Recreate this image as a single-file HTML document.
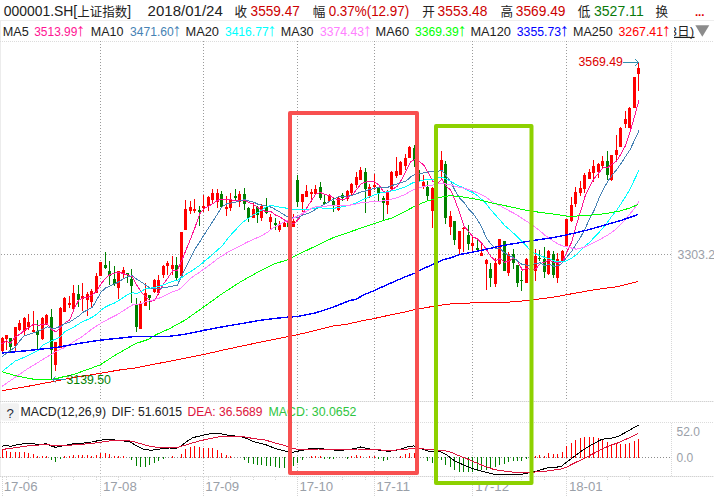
<!DOCTYPE html>
<html><head><meta charset="utf-8"><title>000001.SH</title>
<style>html,body{margin:0;padding:0;background:#fff;overflow:hidden}body{width:714px;height:499px}svg{display:block}text{font-family:"Liberation Sans","Noto Sans CJK SC",sans-serif}.h1{font-size:14px;fill:#222}.h2{font-size:12.3px}.ax{font-size:12px;fill:#9aa0a8}</style></head><body>
<svg width="714" height="499" viewBox="0 0 714 499">
<rect x="0" y="0" width="714" height="499" fill="#fff"/>
<g shape-rendering="crispEdges" fill="none">
<line x1="0" y1="20.5" x2="714" y2="20.5" stroke="#eeeeee" stroke-width="1"/>
<line x1="0.5" y1="21" x2="0.5" y2="477" stroke="#ececec" stroke-width="1"/>
<line x1="0" y1="41.5" x2="714" y2="41.5" stroke="#dcdcdc" stroke-width="1" stroke-dasharray="1 1"/>
<line x1="1" y1="254.5" x2="672" y2="254.5" stroke="#9a9a9a" stroke-width="1" stroke-dasharray="1 2"/>
<line x1="0" y1="401.5" x2="714" y2="401.5" stroke="#eeeeee" stroke-width="1"/>
<line x1="0" y1="401.5" x2="714" y2="401.5" stroke="#d2d2d2" stroke-width="1" stroke-dasharray="1 1"/>
<line x1="0" y1="422.5" x2="714" y2="422.5" stroke="#dcdcdc" stroke-width="1" stroke-dasharray="1 1"/>
<line x1="0" y1="457.5" x2="672" y2="457.5" stroke="#8a8a8a" stroke-width="1" stroke-dasharray="1 2"/>
<line x1="0" y1="476.5" x2="714" y2="476.5" stroke="#eeeeee" stroke-width="1"/>
<line x1="0" y1="476.5" x2="714" y2="476.5" stroke="#d2d2d2" stroke-width="1" stroke-dasharray="1 1"/>
<line x1="100.5" y1="41" x2="100.5" y2="401" stroke="#9a9a9a" stroke-width="1" stroke-dasharray="1 2"/>
<line x1="100.5" y1="422" x2="100.5" y2="476" stroke="#b8b8b8" stroke-width="1" stroke-dasharray="1 2"/>
<line x1="100.5" y1="477" x2="100.5" y2="496" stroke="#d4d4d4" stroke-width="1" stroke-dasharray="1 1"/>
<line x1="203.5" y1="41" x2="203.5" y2="401" stroke="#9a9a9a" stroke-width="1" stroke-dasharray="1 2"/>
<line x1="203.5" y1="422" x2="203.5" y2="476" stroke="#b8b8b8" stroke-width="1" stroke-dasharray="1 2"/>
<line x1="203.5" y1="477" x2="203.5" y2="496" stroke="#d4d4d4" stroke-width="1" stroke-dasharray="1 1"/>
<line x1="297.5" y1="41" x2="297.5" y2="401" stroke="#9a9a9a" stroke-width="1" stroke-dasharray="1 2"/>
<line x1="297.5" y1="422" x2="297.5" y2="476" stroke="#b8b8b8" stroke-width="1" stroke-dasharray="1 2"/>
<line x1="297.5" y1="477" x2="297.5" y2="496" stroke="#d4d4d4" stroke-width="1" stroke-dasharray="1 1"/>
<line x1="374.5" y1="41" x2="374.5" y2="401" stroke="#9a9a9a" stroke-width="1" stroke-dasharray="1 2"/>
<line x1="374.5" y1="422" x2="374.5" y2="476" stroke="#b8b8b8" stroke-width="1" stroke-dasharray="1 2"/>
<line x1="374.5" y1="477" x2="374.5" y2="496" stroke="#d4d4d4" stroke-width="1" stroke-dasharray="1 1"/>
<line x1="472.5" y1="41" x2="472.5" y2="401" stroke="#9a9a9a" stroke-width="1" stroke-dasharray="1 2"/>
<line x1="472.5" y1="422" x2="472.5" y2="476" stroke="#b8b8b8" stroke-width="1" stroke-dasharray="1 2"/>
<line x1="472.5" y1="477" x2="472.5" y2="496" stroke="#d4d4d4" stroke-width="1" stroke-dasharray="1 1"/>
<line x1="566.5" y1="41" x2="566.5" y2="401" stroke="#9a9a9a" stroke-width="1" stroke-dasharray="1 2"/>
<line x1="566.5" y1="422" x2="566.5" y2="476" stroke="#b8b8b8" stroke-width="1" stroke-dasharray="1 2"/>
<line x1="566.5" y1="477" x2="566.5" y2="496" stroke="#d4d4d4" stroke-width="1" stroke-dasharray="1 1"/>
<line x1="671.5" y1="43" x2="671.5" y2="401" stroke="#d8d8d8" stroke-width="1" stroke-dasharray="1 1"/>
<line x1="671.5" y1="423" x2="671.5" y2="476" stroke="#d8d8d8" stroke-width="1" stroke-dasharray="1 1"/>
<line x1="2.5" y1="477" x2="2.5" y2="496" stroke="#d4d4d4" stroke-width="1" stroke-dasharray="1 1"/>
<rect x="6" y="477" width="1" height="1" fill="#d8d8d8"/>
<rect x="6" y="479" width="1" height="1" fill="#d8d8d8"/>
<rect x="28" y="477" width="1" height="1" fill="#d8d8d8"/>
<rect x="28" y="479" width="1" height="1" fill="#d8d8d8"/>
<rect x="51" y="477" width="1" height="1" fill="#d8d8d8"/>
<rect x="51" y="479" width="1" height="1" fill="#d8d8d8"/>
<rect x="73" y="477" width="1" height="1" fill="#d8d8d8"/>
<rect x="73" y="479" width="1" height="1" fill="#d8d8d8"/>
<rect x="96" y="477" width="1" height="1" fill="#d8d8d8"/>
<rect x="96" y="479" width="1" height="1" fill="#d8d8d8"/>
<rect x="118" y="477" width="1" height="1" fill="#d8d8d8"/>
<rect x="118" y="479" width="1" height="1" fill="#d8d8d8"/>
<rect x="140" y="477" width="1" height="1" fill="#d8d8d8"/>
<rect x="140" y="479" width="1" height="1" fill="#d8d8d8"/>
<rect x="163" y="477" width="1" height="1" fill="#d8d8d8"/>
<rect x="163" y="479" width="1" height="1" fill="#d8d8d8"/>
<rect x="185" y="477" width="1" height="1" fill="#d8d8d8"/>
<rect x="185" y="479" width="1" height="1" fill="#d8d8d8"/>
<rect x="208" y="477" width="1" height="1" fill="#d8d8d8"/>
<rect x="208" y="479" width="1" height="1" fill="#d8d8d8"/>
<rect x="230" y="477" width="1" height="1" fill="#d8d8d8"/>
<rect x="230" y="479" width="1" height="1" fill="#d8d8d8"/>
<rect x="253" y="477" width="1" height="1" fill="#d8d8d8"/>
<rect x="253" y="479" width="1" height="1" fill="#d8d8d8"/>
<rect x="275" y="477" width="1" height="1" fill="#d8d8d8"/>
<rect x="275" y="479" width="1" height="1" fill="#d8d8d8"/>
<rect x="320" y="477" width="1" height="1" fill="#d8d8d8"/>
<rect x="320" y="479" width="1" height="1" fill="#d8d8d8"/>
<rect x="342" y="477" width="1" height="1" fill="#d8d8d8"/>
<rect x="342" y="479" width="1" height="1" fill="#d8d8d8"/>
<rect x="365" y="477" width="1" height="1" fill="#d8d8d8"/>
<rect x="365" y="479" width="1" height="1" fill="#d8d8d8"/>
<rect x="387" y="477" width="1" height="1" fill="#d8d8d8"/>
<rect x="387" y="479" width="1" height="1" fill="#d8d8d8"/>
<rect x="409" y="477" width="1" height="1" fill="#d8d8d8"/>
<rect x="409" y="479" width="1" height="1" fill="#d8d8d8"/>
<rect x="432" y="477" width="1" height="1" fill="#d8d8d8"/>
<rect x="432" y="479" width="1" height="1" fill="#d8d8d8"/>
<rect x="454" y="477" width="1" height="1" fill="#d8d8d8"/>
<rect x="454" y="479" width="1" height="1" fill="#d8d8d8"/>
<rect x="477" y="477" width="1" height="1" fill="#d8d8d8"/>
<rect x="477" y="479" width="1" height="1" fill="#d8d8d8"/>
<rect x="499" y="477" width="1" height="1" fill="#d8d8d8"/>
<rect x="499" y="479" width="1" height="1" fill="#d8d8d8"/>
<rect x="521" y="477" width="1" height="1" fill="#d8d8d8"/>
<rect x="521" y="479" width="1" height="1" fill="#d8d8d8"/>
<rect x="544" y="477" width="1" height="1" fill="#d8d8d8"/>
<rect x="544" y="479" width="1" height="1" fill="#d8d8d8"/>
<rect x="584" y="477" width="1" height="1" fill="#d8d8d8"/>
<rect x="584" y="479" width="1" height="1" fill="#d8d8d8"/>
<rect x="607" y="477" width="1" height="1" fill="#d8d8d8"/>
<rect x="607" y="479" width="1" height="1" fill="#d8d8d8"/>
<rect x="629" y="477" width="1" height="1" fill="#d8d8d8"/>
<rect x="629" y="479" width="1" height="1" fill="#d8d8d8"/>
</g>
<g shape-rendering="crispEdges">
<rect x="2" y="337" width="1" height="16" fill="#ff0000"/>
<rect x="1" y="338" width="3" height="13" fill="#ff0000"/>
<rect x="6" y="335" width="1" height="15" fill="#ff0000"/>
<rect x="5" y="335" width="3" height="4" fill="#ff0000"/>
<rect x="10" y="338" width="1" height="14" fill="#008000"/>
<rect x="9" y="338" width="3" height="9" fill="#008000"/>
<rect x="15" y="327" width="1" height="24" fill="#ff0000"/>
<rect x="14" y="327" width="3" height="19" fill="#ff0000"/>
<rect x="19" y="320" width="1" height="11" fill="#ff0000"/>
<rect x="18" y="323" width="3" height="7" fill="#ff0000"/>
<rect x="24" y="317" width="1" height="19" fill="#ff0000"/>
<rect x="23" y="318" width="3" height="13" fill="#ff0000"/>
<rect x="28" y="314" width="1" height="16" fill="#ff0000"/>
<rect x="27" y="322" width="3" height="5" fill="#ff0000"/>
<rect x="33" y="311" width="1" height="22" fill="#ff0000"/>
<rect x="32" y="330" width="3" height="2" fill="#ff0000"/>
<rect x="37" y="320" width="1" height="29" fill="#008000"/>
<rect x="36" y="331" width="3" height="4" fill="#008000"/>
<rect x="42" y="317" width="1" height="23" fill="#ff0000"/>
<rect x="41" y="318" width="3" height="21" fill="#ff0000"/>
<rect x="46" y="314" width="1" height="11" fill="#ff0000"/>
<rect x="45" y="315" width="3" height="9" fill="#ff0000"/>
<rect x="51" y="309" width="1" height="71" fill="#008000"/>
<rect x="50" y="317" width="3" height="33" fill="#008000"/>
<rect x="55" y="342" width="1" height="29" fill="#ff0000"/>
<rect x="54" y="342" width="3" height="23" fill="#ff0000"/>
<rect x="60" y="307" width="1" height="41" fill="#ff0000"/>
<rect x="59" y="308" width="3" height="40" fill="#ff0000"/>
<rect x="64" y="297" width="1" height="15" fill="#ff0000"/>
<rect x="63" y="298" width="3" height="14" fill="#ff0000"/>
<rect x="69" y="296" width="1" height="12" fill="#ff0000"/>
<rect x="68" y="303" width="3" height="2" fill="#ff0000"/>
<rect x="73" y="285" width="1" height="24" fill="#ff0000"/>
<rect x="72" y="293" width="3" height="16" fill="#ff0000"/>
<rect x="78" y="285" width="1" height="22" fill="#008000"/>
<rect x="77" y="294" width="3" height="6" fill="#008000"/>
<rect x="82" y="283" width="1" height="28" fill="#ff0000"/>
<rect x="81" y="296" width="3" height="3" fill="#ff0000"/>
<rect x="87" y="292" width="1" height="24" fill="#ff0000"/>
<rect x="86" y="294" width="3" height="6" fill="#ff0000"/>
<rect x="91" y="289" width="1" height="19" fill="#ff0000"/>
<rect x="90" y="291" width="3" height="11" fill="#ff0000"/>
<rect x="96" y="273" width="1" height="20" fill="#ff0000"/>
<rect x="95" y="276" width="3" height="17" fill="#ff0000"/>
<rect x="100" y="262" width="1" height="14" fill="#ff0000"/>
<rect x="99" y="262" width="3" height="14" fill="#ff0000"/>
<rect x="105" y="252" width="1" height="17" fill="#008000"/>
<rect x="104" y="265" width="3" height="3" fill="#008000"/>
<rect x="109" y="261" width="1" height="24" fill="#008000"/>
<rect x="108" y="271" width="3" height="5" fill="#008000"/>
<rect x="114" y="266" width="1" height="20" fill="#008000"/>
<rect x="113" y="279" width="3" height="5" fill="#008000"/>
<rect x="118" y="271" width="1" height="28" fill="#ff0000"/>
<rect x="117" y="271" width="3" height="17" fill="#ff0000"/>
<rect x="123" y="267" width="1" height="12" fill="#ff0000"/>
<rect x="122" y="270" width="3" height="4" fill="#ff0000"/>
<rect x="127" y="273" width="1" height="10" fill="#008000"/>
<rect x="126" y="273" width="3" height="2" fill="#008000"/>
<rect x="131" y="269" width="1" height="34" fill="#008000"/>
<rect x="130" y="279" width="3" height="7" fill="#008000"/>
<rect x="136" y="298" width="1" height="34" fill="#008000"/>
<rect x="135" y="304" width="3" height="23" fill="#008000"/>
<rect x="140" y="301" width="1" height="28" fill="#ff0000"/>
<rect x="139" y="304" width="3" height="25" fill="#ff0000"/>
<rect x="145" y="283" width="1" height="23" fill="#ff0000"/>
<rect x="144" y="293" width="3" height="13" fill="#ff0000"/>
<rect x="149" y="295" width="1" height="15" fill="#008000"/>
<rect x="148" y="295" width="3" height="3" fill="#008000"/>
<rect x="154" y="279" width="1" height="14" fill="#ff0000"/>
<rect x="153" y="280" width="3" height="12" fill="#ff0000"/>
<rect x="158" y="275" width="1" height="20" fill="#ff0000"/>
<rect x="157" y="280" width="3" height="13" fill="#ff0000"/>
<rect x="163" y="265" width="1" height="13" fill="#ff0000"/>
<rect x="162" y="266" width="3" height="9" fill="#ff0000"/>
<rect x="167" y="261" width="1" height="14" fill="#ff0000"/>
<rect x="166" y="263" width="3" height="3" fill="#ff0000"/>
<rect x="172" y="256" width="1" height="19" fill="#ff0000"/>
<rect x="171" y="265" width="3" height="4" fill="#ff0000"/>
<rect x="176" y="257" width="1" height="23" fill="#008000"/>
<rect x="175" y="265" width="3" height="13" fill="#008000"/>
<rect x="181" y="232" width="1" height="46" fill="#ff0000"/>
<rect x="180" y="232" width="3" height="44" fill="#ff0000"/>
<rect x="185" y="200" width="1" height="30" fill="#ff0000"/>
<rect x="184" y="209" width="3" height="21" fill="#ff0000"/>
<rect x="190" y="201" width="1" height="13" fill="#ff0000"/>
<rect x="189" y="207" width="3" height="4" fill="#ff0000"/>
<rect x="194" y="199" width="1" height="14" fill="#ff0000"/>
<rect x="193" y="209" width="3" height="2" fill="#ff0000"/>
<rect x="199" y="206" width="1" height="20" fill="#008000"/>
<rect x="198" y="210" width="3" height="2" fill="#008000"/>
<rect x="203" y="195" width="1" height="17" fill="#ff0000"/>
<rect x="202" y="206" width="3" height="2" fill="#ff0000"/>
<rect x="208" y="196" width="1" height="15" fill="#ff0000"/>
<rect x="207" y="197" width="3" height="9" fill="#ff0000"/>
<rect x="212" y="189" width="1" height="14" fill="#ff0000"/>
<rect x="211" y="193" width="3" height="7" fill="#ff0000"/>
<rect x="217" y="189" width="1" height="19" fill="#ff0000"/>
<rect x="216" y="193" width="3" height="9" fill="#ff0000"/>
<rect x="221" y="191" width="1" height="17" fill="#008000"/>
<rect x="220" y="194" width="3" height="13" fill="#008000"/>
<rect x="226" y="196" width="1" height="20" fill="#ff0000"/>
<rect x="225" y="207" width="3" height="2" fill="#ff0000"/>
<rect x="230" y="193" width="1" height="18" fill="#ff0000"/>
<rect x="229" y="199" width="3" height="9" fill="#ff0000"/>
<rect x="235" y="189" width="1" height="12" fill="#008000"/>
<rect x="234" y="196" width="3" height="2" fill="#008000"/>
<rect x="239" y="191" width="1" height="16" fill="#ff0000"/>
<rect x="238" y="194" width="3" height="8" fill="#ff0000"/>
<rect x="244" y="188" width="1" height="22" fill="#008000"/>
<rect x="243" y="194" width="3" height="10" fill="#008000"/>
<rect x="248" y="207" width="1" height="15" fill="#008000"/>
<rect x="247" y="208" width="3" height="10" fill="#008000"/>
<rect x="253" y="203" width="1" height="15" fill="#ff0000"/>
<rect x="252" y="209" width="3" height="9" fill="#ff0000"/>
<rect x="257" y="206" width="1" height="17" fill="#008000"/>
<rect x="256" y="207" width="3" height="8" fill="#008000"/>
<rect x="261" y="204" width="1" height="17" fill="#ff0000"/>
<rect x="260" y="206" width="3" height="12" fill="#ff0000"/>
<rect x="266" y="198" width="1" height="16" fill="#008000"/>
<rect x="265" y="207" width="3" height="6" fill="#008000"/>
<rect x="270" y="214" width="1" height="15" fill="#ff0000"/>
<rect x="269" y="217" width="3" height="5" fill="#ff0000"/>
<rect x="275" y="218" width="1" height="12" fill="#008000"/>
<rect x="274" y="223" width="3" height="2" fill="#008000"/>
<rect x="279" y="221" width="1" height="11" fill="#ff0000"/>
<rect x="278" y="224" width="3" height="6" fill="#ff0000"/>
<rect x="284" y="219" width="1" height="8" fill="#ff0000"/>
<rect x="283" y="223" width="3" height="4" fill="#ff0000"/>
<rect x="288" y="220" width="1" height="9" fill="#008000"/>
<rect x="287" y="223" width="3" height="4" fill="#008000"/>
<rect x="293" y="214" width="1" height="13" fill="#ff0000"/>
<rect x="292" y="221" width="3" height="6" fill="#ff0000"/>
<rect x="297" y="175" width="1" height="32" fill="#008000"/>
<rect x="296" y="180" width="3" height="22" fill="#008000"/>
<rect x="302" y="194" width="1" height="18" fill="#ff0000"/>
<rect x="301" y="194" width="3" height="8" fill="#ff0000"/>
<rect x="306" y="185" width="1" height="12" fill="#ff0000"/>
<rect x="305" y="191" width="3" height="6" fill="#ff0000"/>
<rect x="311" y="189" width="1" height="13" fill="#ff0000"/>
<rect x="310" y="192" width="3" height="2" fill="#ff0000"/>
<rect x="315" y="185" width="1" height="9" fill="#ff0000"/>
<rect x="314" y="189" width="3" height="5" fill="#ff0000"/>
<rect x="320" y="182" width="1" height="18" fill="#008000"/>
<rect x="319" y="187" width="3" height="11" fill="#008000"/>
<rect x="324" y="194" width="1" height="11" fill="#008000"/>
<rect x="323" y="202" width="3" height="2" fill="#008000"/>
<rect x="329" y="194" width="1" height="8" fill="#ff0000"/>
<rect x="328" y="195" width="3" height="6" fill="#ff0000"/>
<rect x="333" y="198" width="1" height="14" fill="#008000"/>
<rect x="332" y="201" width="3" height="4" fill="#008000"/>
<rect x="338" y="197" width="1" height="14" fill="#ff0000"/>
<rect x="337" y="198" width="3" height="12" fill="#ff0000"/>
<rect x="342" y="193" width="1" height="8" fill="#008000"/>
<rect x="341" y="195" width="3" height="3" fill="#008000"/>
<rect x="347" y="190" width="1" height="11" fill="#ff0000"/>
<rect x="346" y="191" width="3" height="8" fill="#ff0000"/>
<rect x="351" y="183" width="1" height="12" fill="#ff0000"/>
<rect x="350" y="184" width="3" height="9" fill="#ff0000"/>
<rect x="356" y="172" width="1" height="16" fill="#ff0000"/>
<rect x="355" y="177" width="3" height="8" fill="#ff0000"/>
<rect x="360" y="167" width="1" height="13" fill="#ff0000"/>
<rect x="359" y="170" width="3" height="10" fill="#ff0000"/>
<rect x="365" y="168" width="1" height="45" fill="#008000"/>
<rect x="364" y="172" width="3" height="17" fill="#008000"/>
<rect x="369" y="184" width="1" height="14" fill="#ff0000"/>
<rect x="368" y="187" width="3" height="9" fill="#ff0000"/>
<rect x="374" y="174" width="1" height="16" fill="#ff0000"/>
<rect x="373" y="185" width="3" height="2" fill="#ff0000"/>
<rect x="378" y="188" width="1" height="13" fill="#008000"/>
<rect x="377" y="188" width="3" height="6" fill="#008000"/>
<rect x="383" y="196" width="1" height="25" fill="#008000"/>
<rect x="382" y="198" width="3" height="5" fill="#008000"/>
<rect x="387" y="190" width="1" height="24" fill="#ff0000"/>
<rect x="386" y="192" width="3" height="13" fill="#ff0000"/>
<rect x="391" y="171" width="1" height="18" fill="#ff0000"/>
<rect x="390" y="172" width="3" height="17" fill="#ff0000"/>
<rect x="396" y="157" width="1" height="21" fill="#ff0000"/>
<rect x="395" y="171" width="3" height="5" fill="#ff0000"/>
<rect x="400" y="161" width="1" height="14" fill="#ff0000"/>
<rect x="399" y="162" width="3" height="13" fill="#ff0000"/>
<rect x="405" y="154" width="1" height="16" fill="#ff0000"/>
<rect x="404" y="158" width="3" height="8" fill="#ff0000"/>
<rect x="409" y="146" width="1" height="12" fill="#ff0000"/>
<rect x="408" y="147" width="3" height="11" fill="#ff0000"/>
<rect x="414" y="145" width="1" height="22" fill="#008000"/>
<rect x="413" y="148" width="3" height="12" fill="#008000"/>
<rect x="418" y="158" width="1" height="25" fill="#008000"/>
<rect x="417" y="170" width="3" height="11" fill="#008000"/>
<rect x="423" y="175" width="1" height="14" fill="#ff0000"/>
<rect x="422" y="182" width="3" height="5" fill="#ff0000"/>
<rect x="427" y="181" width="1" height="20" fill="#008000"/>
<rect x="426" y="187" width="3" height="9" fill="#008000"/>
<rect x="432" y="187" width="1" height="41" fill="#ff0000"/>
<rect x="431" y="188" width="3" height="23" fill="#ff0000"/>
<rect x="436" y="168" width="1" height="22" fill="#ff0000"/>
<rect x="435" y="170" width="3" height="16" fill="#ff0000"/>
<rect x="441" y="151" width="1" height="28" fill="#ff0000"/>
<rect x="440" y="160" width="3" height="10" fill="#ff0000"/>
<rect x="445" y="161" width="1" height="63" fill="#008000"/>
<rect x="444" y="164" width="3" height="54" fill="#008000"/>
<rect x="450" y="211" width="1" height="24" fill="#ff0000"/>
<rect x="449" y="216" width="3" height="11" fill="#ff0000"/>
<rect x="454" y="221" width="1" height="24" fill="#008000"/>
<rect x="453" y="221" width="3" height="19" fill="#008000"/>
<rect x="459" y="231" width="1" height="24" fill="#ff0000"/>
<rect x="458" y="231" width="3" height="18" fill="#ff0000"/>
<rect x="463" y="227" width="1" height="25" fill="#ff0000"/>
<rect x="462" y="228" width="3" height="1" fill="#ff0000"/>
<rect x="468" y="225" width="1" height="25" fill="#008000"/>
<rect x="467" y="235" width="3" height="9" fill="#008000"/>
<rect x="472" y="237" width="1" height="15" fill="#ff0000"/>
<rect x="471" y="243" width="3" height="3" fill="#ff0000"/>
<rect x="477" y="238" width="1" height="14" fill="#008000"/>
<rect x="476" y="248" width="3" height="2" fill="#008000"/>
<rect x="481" y="243" width="1" height="13" fill="#ff0000"/>
<rect x="480" y="253" width="3" height="3" fill="#ff0000"/>
<rect x="486" y="259" width="1" height="31" fill="#ff0000"/>
<rect x="485" y="260" width="3" height="4" fill="#ff0000"/>
<rect x="490" y="263" width="1" height="24" fill="#008000"/>
<rect x="489" y="269" width="3" height="9" fill="#008000"/>
<rect x="495" y="258" width="1" height="29" fill="#ff0000"/>
<rect x="494" y="263" width="3" height="21" fill="#ff0000"/>
<rect x="499" y="239" width="1" height="26" fill="#ff0000"/>
<rect x="498" y="239" width="3" height="25" fill="#ff0000"/>
<rect x="504" y="241" width="1" height="30" fill="#008000"/>
<rect x="503" y="241" width="3" height="30" fill="#008000"/>
<rect x="508" y="252" width="1" height="24" fill="#ff0000"/>
<rect x="507" y="254" width="3" height="19" fill="#ff0000"/>
<rect x="513" y="249" width="1" height="20" fill="#008000"/>
<rect x="512" y="254" width="3" height="9" fill="#008000"/>
<rect x="517" y="265" width="1" height="22" fill="#008000"/>
<rect x="516" y="265" width="3" height="18" fill="#008000"/>
<rect x="521" y="271" width="1" height="20" fill="#008000"/>
<rect x="520" y="280" width="3" height="1" fill="#008000"/>
<rect x="526" y="258" width="1" height="25" fill="#ff0000"/>
<rect x="525" y="259" width="3" height="24" fill="#ff0000"/>
<rect x="535" y="249" width="1" height="32" fill="#ff0000"/>
<rect x="534" y="256" width="3" height="15" fill="#ff0000"/>
<rect x="539" y="250" width="1" height="11" fill="#008000"/>
<rect x="538" y="258" width="3" height="1" fill="#008000"/>
<rect x="544" y="247" width="1" height="31" fill="#008000"/>
<rect x="543" y="259" width="3" height="13" fill="#008000"/>
<rect x="548" y="250" width="1" height="25" fill="#ff0000"/>
<rect x="547" y="251" width="3" height="23" fill="#ff0000"/>
<rect x="553" y="251" width="1" height="27" fill="#008000"/>
<rect x="552" y="254" width="3" height="21" fill="#008000"/>
<rect x="557" y="253" width="1" height="30" fill="#ff0000"/>
<rect x="556" y="259" width="3" height="19" fill="#ff0000"/>
<rect x="562" y="250" width="1" height="12" fill="#ff0000"/>
<rect x="561" y="251" width="3" height="11" fill="#ff0000"/>
<rect x="566" y="219" width="1" height="27" fill="#ff0000"/>
<rect x="565" y="219" width="3" height="27" fill="#ff0000"/>
<rect x="571" y="197" width="1" height="25" fill="#ff0000"/>
<rect x="570" y="205" width="3" height="16" fill="#ff0000"/>
<rect x="575" y="187" width="1" height="20" fill="#ff0000"/>
<rect x="574" y="192" width="3" height="12" fill="#ff0000"/>
<rect x="580" y="181" width="1" height="15" fill="#ff0000"/>
<rect x="579" y="188" width="3" height="5" fill="#ff0000"/>
<rect x="584" y="173" width="1" height="20" fill="#ff0000"/>
<rect x="583" y="175" width="3" height="14" fill="#ff0000"/>
<rect x="589" y="169" width="1" height="10" fill="#ff0000"/>
<rect x="588" y="172" width="3" height="7" fill="#ff0000"/>
<rect x="593" y="160" width="1" height="22" fill="#ff0000"/>
<rect x="592" y="166" width="3" height="7" fill="#ff0000"/>
<rect x="598" y="163" width="1" height="15" fill="#ff0000"/>
<rect x="597" y="164" width="3" height="8" fill="#ff0000"/>
<rect x="602" y="156" width="1" height="12" fill="#ff0000"/>
<rect x="601" y="161" width="3" height="5" fill="#ff0000"/>
<rect x="607" y="151" width="1" height="29" fill="#008000"/>
<rect x="606" y="161" width="3" height="14" fill="#008000"/>
<rect x="611" y="155" width="1" height="26" fill="#ff0000"/>
<rect x="610" y="155" width="3" height="25" fill="#ff0000"/>
<rect x="616" y="135" width="1" height="25" fill="#ff0000"/>
<rect x="615" y="150" width="3" height="5" fill="#ff0000"/>
<rect x="620" y="127" width="1" height="20" fill="#ff0000"/>
<rect x="619" y="128" width="3" height="19" fill="#ff0000"/>
<rect x="625" y="111" width="1" height="17" fill="#ff0000"/>
<rect x="624" y="119" width="3" height="5" fill="#ff0000"/>
<rect x="629" y="107" width="1" height="21" fill="#ff0000"/>
<rect x="628" y="108" width="3" height="20" fill="#ff0000"/>
<rect x="634" y="77" width="1" height="31" fill="#ff0000"/>
<rect x="633" y="77" width="3" height="31" fill="#ff0000"/>
<rect x="638" y="62" width="1" height="29" fill="#ff0000"/>
<rect x="637" y="68" width="3" height="6" fill="#ff0000"/>
</g>
<g shape-rendering="crispEdges">
<rect x="2" y="450" width="1" height="8" fill="#ff0000"/>
<rect x="6" y="451" width="1" height="7" fill="#ff0000"/>
<rect x="10" y="452" width="1" height="6" fill="#ff0000"/>
<rect x="15" y="452" width="1" height="6" fill="#ff0000"/>
<rect x="19" y="452" width="1" height="6" fill="#ff0000"/>
<rect x="24" y="452" width="1" height="6" fill="#ff0000"/>
<rect x="28" y="453" width="1" height="5" fill="#ff0000"/>
<rect x="33" y="454" width="1" height="4" fill="#ff0000"/>
<rect x="37" y="456" width="1" height="2" fill="#ff0000"/>
<rect x="42" y="456" width="1" height="2" fill="#ff0000"/>
<rect x="46" y="456" width="1" height="2" fill="#ff0000"/>
<rect x="51" y="457" width="1" height="3" fill="#008000"/>
<rect x="55" y="457" width="1" height="5" fill="#008000"/>
<rect x="60" y="457" width="1" height="2" fill="#008000"/>
<rect x="64" y="456" width="1" height="2" fill="#ff0000"/>
<rect x="69" y="456" width="1" height="2" fill="#ff0000"/>
<rect x="73" y="455" width="1" height="3" fill="#ff0000"/>
<rect x="78" y="455" width="1" height="3" fill="#ff0000"/>
<rect x="82" y="455" width="1" height="3" fill="#ff0000"/>
<rect x="87" y="455" width="1" height="3" fill="#ff0000"/>
<rect x="91" y="456" width="1" height="2" fill="#ff0000"/>
<rect x="96" y="455" width="1" height="3" fill="#ff0000"/>
<rect x="100" y="453" width="1" height="5" fill="#ff0000"/>
<rect x="105" y="453" width="1" height="5" fill="#ff0000"/>
<rect x="109" y="454" width="1" height="4" fill="#ff0000"/>
<rect x="114" y="456" width="1" height="2" fill="#ff0000"/>
<rect x="118" y="456" width="1" height="2" fill="#ff0000"/>
<rect x="123" y="456" width="1" height="2" fill="#ff0000"/>
<rect x="131" y="457" width="1" height="3" fill="#008000"/>
<rect x="136" y="457" width="1" height="9" fill="#008000"/>
<rect x="140" y="457" width="1" height="10" fill="#008000"/>
<rect x="145" y="457" width="1" height="10" fill="#008000"/>
<rect x="149" y="457" width="1" height="8" fill="#008000"/>
<rect x="154" y="457" width="1" height="6" fill="#008000"/>
<rect x="158" y="457" width="1" height="4" fill="#008000"/>
<rect x="163" y="457" width="1" height="2" fill="#008000"/>
<rect x="172" y="456" width="1" height="2" fill="#ff0000"/>
<rect x="181" y="454" width="1" height="4" fill="#ff0000"/>
<rect x="185" y="449" width="1" height="9" fill="#ff0000"/>
<rect x="190" y="447" width="1" height="11" fill="#ff0000"/>
<rect x="194" y="446" width="1" height="12" fill="#ff0000"/>
<rect x="199" y="447" width="1" height="11" fill="#ff0000"/>
<rect x="203" y="448" width="1" height="10" fill="#ff0000"/>
<rect x="208" y="448" width="1" height="10" fill="#ff0000"/>
<rect x="212" y="448" width="1" height="10" fill="#ff0000"/>
<rect x="217" y="450" width="1" height="8" fill="#ff0000"/>
<rect x="221" y="453" width="1" height="5" fill="#ff0000"/>
<rect x="226" y="455" width="1" height="3" fill="#ff0000"/>
<rect x="230" y="456" width="1" height="2" fill="#ff0000"/>
<rect x="244" y="457" width="1" height="3" fill="#008000"/>
<rect x="248" y="457" width="1" height="6" fill="#008000"/>
<rect x="253" y="457" width="1" height="7" fill="#008000"/>
<rect x="257" y="457" width="1" height="8" fill="#008000"/>
<rect x="261" y="457" width="1" height="8" fill="#008000"/>
<rect x="266" y="457" width="1" height="9" fill="#008000"/>
<rect x="270" y="457" width="1" height="9" fill="#008000"/>
<rect x="275" y="457" width="1" height="10" fill="#008000"/>
<rect x="279" y="457" width="1" height="11" fill="#008000"/>
<rect x="284" y="457" width="1" height="11" fill="#008000"/>
<rect x="288" y="457" width="1" height="10" fill="#008000"/>
<rect x="293" y="457" width="1" height="9" fill="#008000"/>
<rect x="297" y="457" width="1" height="6" fill="#008000"/>
<rect x="302" y="457" width="1" height="3" fill="#008000"/>
<rect x="311" y="456" width="1" height="2" fill="#ff0000"/>
<rect x="315" y="456" width="1" height="2" fill="#ff0000"/>
<rect x="320" y="456" width="1" height="2" fill="#ff0000"/>
<rect x="324" y="457" width="1" height="2" fill="#008000"/>
<rect x="329" y="457" width="1" height="2" fill="#008000"/>
<rect x="333" y="457" width="1" height="2" fill="#008000"/>
<rect x="347" y="457" width="1" height="2" fill="#008000"/>
<rect x="351" y="456" width="1" height="2" fill="#ff0000"/>
<rect x="356" y="455" width="1" height="3" fill="#ff0000"/>
<rect x="360" y="456" width="1" height="2" fill="#ff0000"/>
<rect x="369" y="456" width="1" height="2" fill="#ff0000"/>
<rect x="374" y="456" width="1" height="2" fill="#ff0000"/>
<rect x="378" y="457" width="1" height="2" fill="#008000"/>
<rect x="383" y="457" width="1" height="4" fill="#008000"/>
<rect x="387" y="457" width="1" height="3" fill="#008000"/>
<rect x="400" y="456" width="1" height="2" fill="#ff0000"/>
<rect x="405" y="454" width="1" height="4" fill="#ff0000"/>
<rect x="409" y="453" width="1" height="5" fill="#ff0000"/>
<rect x="414" y="453" width="1" height="5" fill="#ff0000"/>
<rect x="418" y="455" width="1" height="3" fill="#ff0000"/>
<rect x="427" y="457" width="1" height="4" fill="#008000"/>
<rect x="432" y="457" width="1" height="6" fill="#008000"/>
<rect x="436" y="457" width="1" height="5" fill="#008000"/>
<rect x="441" y="457" width="1" height="3" fill="#008000"/>
<rect x="445" y="457" width="1" height="8" fill="#008000"/>
<rect x="450" y="457" width="1" height="10" fill="#008000"/>
<rect x="454" y="457" width="1" height="13" fill="#008000"/>
<rect x="459" y="457" width="1" height="15" fill="#008000"/>
<rect x="463" y="457" width="1" height="15" fill="#008000"/>
<rect x="468" y="457" width="1" height="15" fill="#008000"/>
<rect x="472" y="457" width="1" height="15" fill="#008000"/>
<rect x="477" y="457" width="1" height="14" fill="#008000"/>
<rect x="481" y="457" width="1" height="13" fill="#008000"/>
<rect x="486" y="457" width="1" height="13" fill="#008000"/>
<rect x="490" y="457" width="1" height="12" fill="#008000"/>
<rect x="495" y="457" width="1" height="10" fill="#008000"/>
<rect x="499" y="457" width="1" height="8" fill="#008000"/>
<rect x="504" y="457" width="1" height="7" fill="#008000"/>
<rect x="508" y="457" width="1" height="5" fill="#008000"/>
<rect x="513" y="457" width="1" height="4" fill="#008000"/>
<rect x="517" y="457" width="1" height="4" fill="#008000"/>
<rect x="521" y="457" width="1" height="4" fill="#008000"/>
<rect x="526" y="457" width="1" height="2" fill="#008000"/>
<rect x="535" y="456" width="1" height="2" fill="#ff0000"/>
<rect x="539" y="455" width="1" height="3" fill="#ff0000"/>
<rect x="544" y="456" width="1" height="2" fill="#ff0000"/>
<rect x="548" y="453" width="1" height="5" fill="#ff0000"/>
<rect x="553" y="454" width="1" height="4" fill="#ff0000"/>
<rect x="557" y="454" width="1" height="4" fill="#ff0000"/>
<rect x="562" y="452" width="1" height="6" fill="#ff0000"/>
<rect x="566" y="446" width="1" height="12" fill="#ff0000"/>
<rect x="571" y="443" width="1" height="15" fill="#ff0000"/>
<rect x="575" y="440" width="1" height="18" fill="#ff0000"/>
<rect x="580" y="438" width="1" height="20" fill="#ff0000"/>
<rect x="584" y="437" width="1" height="21" fill="#ff0000"/>
<rect x="589" y="437" width="1" height="21" fill="#ff0000"/>
<rect x="593" y="437" width="1" height="21" fill="#ff0000"/>
<rect x="598" y="438" width="1" height="20" fill="#ff0000"/>
<rect x="602" y="439" width="1" height="19" fill="#ff0000"/>
<rect x="607" y="442" width="1" height="16" fill="#ff0000"/>
<rect x="611" y="444" width="1" height="14" fill="#ff0000"/>
<rect x="616" y="444" width="1" height="14" fill="#ff0000"/>
<rect x="620" y="444" width="1" height="14" fill="#ff0000"/>
<rect x="625" y="444" width="1" height="14" fill="#ff0000"/>
<rect x="629" y="443" width="1" height="15" fill="#ff0000"/>
<rect x="634" y="441" width="1" height="17" fill="#ff0000"/>
<rect x="638" y="439" width="1" height="19" fill="#ff0000"/>
</g>
<polyline points="1.4,344.0 6.3,340.8 10.5,343.3 15.0,337.0 20.4,334.0 24.9,329.9 29.4,327.3 33.9,323.9 38.4,325.5 42.8,324.4 47.3,323.9 51.8,329.6 56.3,332.0 60.8,326.6 65.3,322.6 69.7,320.2 74.2,308.7 78.7,300.2 83.2,297.9 87.7,297.1 92.2,294.8 96.6,291.4 101.1,283.8 105.6,278.2 110.1,274.6 114.6,273.1 119.0,272.1 123.5,273.7 128.0,275.1 132.5,277.0 137.0,285.6 141.5,292.2 145.9,296.8 150.4,301.4 154.9,300.3 159.4,290.9 163.9,283.3 168.4,277.2 172.8,270.6 177.3,270.2 181.8,260.6 186.3,249.3 190.8,238.2 195.2,227.0 199.7,213.8 204.2,208.6 208.7,206.2 213.2,203.4 217.7,200.2 222.1,199.2 226.6,199.4 231.1,199.8 235.6,200.8 240.1,201.0 244.6,200.3 249.0,202.4 253.5,204.4 258.0,207.7 262.5,210.2 267.0,212.0 271.4,211.9 275.9,215.3 280.4,217.1 284.9,220.4 289.4,223.2 293.9,224.0 298.3,219.3 302.8,213.3 307.3,207.0 311.8,199.9 316.3,193.5 320.8,192.7 325.2,194.7 329.7,195.5 334.2,198.2 338.7,200.0 343.2,199.9 347.7,197.4 352.1,195.1 356.6,189.5 361.1,183.8 365.6,182.1 370.1,181.3 374.5,181.6 379.0,185.1 383.5,191.8 388.0,192.3 392.5,189.3 397.0,186.4 401.4,180.0 405.9,170.9 410.4,161.9 414.9,159.4 419.4,161.3 423.9,165.4 428.3,173.0 432.8,181.2 437.3,183.3 441.8,179.2 446.3,186.3 450.8,190.3 455.2,200.7 459.7,212.9 464.2,226.4 468.7,231.6 473.2,237.0 477.6,239.0 482.1,243.4 486.6,249.9 491.1,256.9 495.6,260.8 500.1,258.7 504.5,262.3 509.0,261.0 513.5,257.9 518.0,262.0 522.5,270.4 527.0,268.0 531.4,270.0 535.9,268.6 540.4,263.7 544.9,261.9 549.4,260.3 553.8,262.5 558.3,263.1 562.8,261.4 567.3,251.0 571.8,241.9 576.3,225.2 580.7,211.0 585.2,195.8 589.7,186.3 594.2,178.5 598.7,173.0 603.2,167.6 607.6,167.6 612.1,164.1 616.6,161.0 621.1,153.7 625.6,145.3 630.0,132.0 634.5,116.5 639.0,100.0" fill="none" stroke="#ff1493" stroke-width="1" stroke-linejoin="round" shape-rendering="crispEdges" />
<polyline points="2.0,356.6 10.5,350.3 15.0,347.5 19.4,341.2 24.3,335.6 28.6,334.6 33.4,332.8 37.4,331.4 42.8,329.2 47.3,326.9 51.8,328.4 56.3,328.0 60.8,326.0 65.3,323.5 69.7,322.1 74.2,319.1 78.7,316.1 83.2,312.2 87.7,309.9 92.2,307.5 96.6,300.0 101.1,292.0 105.6,288.0 110.1,285.9 114.6,283.9 119.0,281.8 123.5,278.7 128.0,276.6 132.5,275.8 137.0,279.4 141.5,282.1 145.9,285.2 150.4,288.2 154.9,288.6 159.4,288.3 163.9,287.7 168.4,287.0 172.8,286.0 177.3,285.2 181.8,275.8 186.3,266.3 190.8,257.7 195.2,248.8 199.7,242.0 204.2,234.6 208.7,227.8 213.2,220.8 217.7,213.6 222.1,206.5 226.6,204.0 231.1,203.0 235.6,202.1 240.1,200.6 244.6,199.7 249.0,200.9 253.5,202.1 258.0,204.2 262.5,205.6 267.0,206.2 271.4,207.2 275.9,209.8 280.4,212.4 284.9,215.3 289.4,217.6 293.9,217.9 298.3,217.3 302.8,215.2 307.3,213.7 311.8,211.6 316.3,208.8 320.8,206.0 325.2,204.0 329.7,201.2 334.2,199.1 338.7,196.8 343.2,196.3 347.7,196.0 352.1,195.3 356.6,193.8 361.1,191.9 365.6,191.0 370.1,189.4 374.5,188.4 379.0,187.3 383.5,187.8 388.0,187.2 392.5,185.3 397.0,184.0 401.4,182.5 405.9,181.3 410.4,177.1 414.9,174.3 419.4,173.9 423.9,172.7 428.3,172.0 432.8,171.6 437.3,171.4 441.8,170.3 446.3,175.9 450.8,181.7 455.2,191.0 459.7,198.1 464.2,202.8 468.7,209.0 473.2,213.7 477.6,219.9 482.1,228.2 486.6,238.2 491.1,244.2 495.6,248.9 500.1,248.9 504.5,252.8 509.0,255.5 513.5,257.4 518.0,261.4 522.5,264.6 527.0,265.1 531.4,265.5 535.9,263.2 540.4,262.9 544.9,266.1 549.4,264.1 553.8,266.2 558.3,265.8 562.8,262.6 567.3,256.4 571.8,251.1 576.3,243.8 580.7,237.1 585.2,228.6 589.7,218.7 594.2,210.2 598.7,199.1 603.2,189.3 607.6,181.7 612.1,175.2 616.6,169.7 621.1,163.3 625.6,156.4 630.0,149.8 634.5,140.3 639.0,130.5" fill="none" stroke="#4682b4" stroke-width="1" stroke-linejoin="round" shape-rendering="crispEdges" />
<polyline points="2.0,371.7 15.6,360.7 18.2,360.0 28.0,355.5 33.6,352.5 37.4,351.0 43.7,344.5 46.6,343.2 55.7,339.0 60.0,337.2 64.5,332.0 73.5,327.2 82.6,321.6 87.7,319.5 92.2,317.2 96.6,314.2 101.1,310.0 105.6,307.0 110.1,304.7 114.6,303.0 119.0,300.4 123.5,297.4 128.0,294.4 132.5,292.8 137.0,293.4 141.5,291.1 145.9,288.6 150.4,288.1 154.9,287.2 159.4,286.1 163.9,284.7 168.4,282.9 172.8,281.3 177.3,280.5 181.8,277.6 186.3,274.2 190.8,271.5 195.2,268.5 199.7,265.3 204.2,261.4 208.7,257.7 213.2,253.9 217.7,249.8 222.1,245.9 226.6,239.9 231.1,234.6 235.6,229.9 240.1,224.7 244.6,220.9 249.0,217.8 253.5,214.9 258.0,212.5 262.5,209.6 267.0,206.3 271.4,205.6 275.9,206.4 280.4,207.3 284.9,207.9 289.4,208.7 293.9,209.4 298.3,209.7 302.8,209.7 307.3,209.6 311.8,208.9 316.3,208.0 320.8,207.9 325.2,208.2 329.7,208.3 334.2,208.3 338.7,207.3 343.2,206.8 347.7,205.6 352.1,204.5 356.6,202.7 361.1,200.3 365.6,198.5 370.1,196.7 374.5,194.8 379.0,193.2 383.5,192.3 388.0,191.8 392.5,190.7 397.0,189.7 401.4,188.2 405.9,186.6 410.4,184.1 414.9,181.9 419.4,181.1 423.9,180.0 428.3,179.9 432.8,179.4 437.3,178.3 441.8,177.1 446.3,179.2 450.8,181.5 455.2,184.0 459.7,186.2 464.2,188.3 468.7,190.8 473.2,192.8 477.6,195.7 482.1,199.8 486.6,204.2 491.1,210.1 495.6,215.3 500.1,219.9 504.5,225.5 509.0,229.1 513.5,233.2 518.0,237.5 522.5,242.2 527.0,246.6 531.4,251.8 535.9,253.7 540.4,255.9 544.9,257.5 549.4,258.5 553.8,260.9 558.3,261.6 562.8,262.0 567.3,260.5 571.8,258.1 576.3,254.7 580.7,250.2 585.2,245.8 589.7,242.4 594.2,237.2 598.7,232.7 603.2,227.6 607.6,222.1 612.1,215.8 616.6,210.4 621.1,203.6 625.6,196.7 630.0,189.2 634.5,179.5 639.0,170.3" fill="none" stroke="#00ffff" stroke-width="1" stroke-linejoin="round" shape-rendering="crispEdges" />
<polyline points="2.0,386.4 26.0,369.8 42.0,360.0 55.7,351.7 64.5,347.5 73.5,341.9 82.6,336.3 91.6,329.3 100.0,323.8 108.4,319.0 116.8,314.9 126.6,308.6 132.5,305.0 137.0,304.6 141.5,303.5 145.9,301.7 150.4,300.8 154.9,299.3 159.4,298.1 163.9,296.2 168.4,294.0 172.8,291.6 177.3,290.3 181.8,287.5 186.3,282.8 190.8,278.3 195.2,275.0 199.7,272.2 204.2,268.9 208.7,265.7 213.2,262.2 217.7,258.7 222.1,255.8 226.6,253.0 231.1,250.5 235.6,248.3 240.1,245.9 244.6,243.5 249.0,241.3 253.5,239.2 258.0,237.4 262.5,235.1 267.0,232.6 271.4,229.0 275.9,226.4 280.4,224.1 284.9,221.6 289.4,219.8 293.9,217.8 298.3,215.7 302.8,213.4 307.3,211.0 311.8,208.1 316.3,206.6 320.8,206.3 325.2,206.2 329.7,205.7 334.2,205.5 338.7,205.2 343.2,205.2 347.7,205.2 352.1,204.9 356.6,203.8 361.1,202.6 365.6,202.3 370.1,201.9 374.5,201.6 379.0,201.3 383.5,200.8 388.0,200.3 392.5,198.8 397.0,197.7 401.4,196.0 405.9,194.0 410.4,191.4 414.9,189.2 419.4,187.8 423.9,186.3 428.3,185.5 432.8,185.0 437.3,184.2 441.8,183.2 446.3,184.1 450.8,185.0 455.2,186.4 459.7,187.3 464.2,188.4 468.7,189.6 473.2,191.1 477.6,192.9 482.1,194.9 486.6,197.5 491.1,200.9 495.6,204.0 500.1,205.6 504.5,208.4 509.0,210.7 513.5,213.0 518.0,215.7 522.5,218.7 527.0,221.5 531.4,224.6 535.9,227.8 540.4,231.2 544.9,235.3 549.4,238.4 553.8,241.5 558.3,244.1 562.8,245.9 567.3,246.9 571.8,248.1 576.3,249.2 580.7,248.2 585.2,246.8 589.7,244.6 594.2,242.4 598.7,240.3 603.2,237.5 607.6,235.2 612.1,232.1 616.6,228.6 621.1,224.2 625.6,218.9 630.0,213.8 634.5,208.4 639.0,201.6" fill="none" stroke="#ff80ff" stroke-width="1" stroke-linejoin="round" shape-rendering="crispEdges" />
<polyline points="2.0,371.7 15.6,375.8 34.0,379.3 52.0,379.6 75.5,373.8 100.0,365.0 114.6,355.5 135.0,343.8 148.4,339.4 156.0,334.7 170.0,328.4 185.6,319.8 203.9,306.8 222.0,293.8 240.3,282.0 258.5,271.7 274.2,263.9 287.2,260.0 297.6,254.7 315.8,246.0 334.0,237.3 350.0,231.9 361.2,228.0 374.5,223.5 392.0,217.9 406.0,210.9 415.2,206.0 427.0,201.0 439.8,197.5 450.0,195.6 462.5,197.0 478.0,199.5 493.8,203.4 509.4,206.6 525.0,210.0 540.6,212.5 556.2,214.4 567.9,216.4 586.0,215.6 604.3,213.8 620.0,211.0 630.4,207.8 638.0,204.4" fill="none" stroke="#00ff00" stroke-width="1" stroke-linejoin="round" shape-rendering="crispEdges" />
<polyline points="2.0,353.0 28.0,350.6 56.0,347.5 84.0,342.6 100.0,340.2 135.0,336.5 170.0,336.2 185.6,334.2 203.9,330.3 222.0,326.9 240.3,323.8 258.5,320.6 274.2,318.5 287.2,317.2 297.6,316.5 315.8,312.8 334.0,306.8 345.6,302.2 350.0,300.3 355.6,299.6 364.0,294.7 374.5,290.5 385.0,285.6 396.3,280.7 406.0,276.5 415.2,273.0 423.0,268.8 434.0,263.8 444.0,259.4 450.0,258.0 460.0,254.5 473.0,252.0 486.0,249.3 499.0,246.4 510.0,244.3 530.0,241.0 549.6,238.2 567.9,234.6 586.0,230.4 604.3,225.2 620.0,220.8 638.0,214.6" fill="none" stroke="#0000ff" stroke-width="1.4" stroke-linejoin="round" shape-rendering="crispEdges" />
<polyline points="2.0,390.7 28.0,386.3 48.0,382.5 72.5,377.8 100.0,373.4 118.0,370.2 135.0,368.0 179.0,359.4 203.9,354.5 222.0,350.3 240.3,346.4 258.5,342.5 274.2,339.4 287.2,336.8 297.6,334.7 315.8,330.3 334.0,325.8 345.6,324.5 361.2,321.0 374.3,318.5 390.0,315.0 403.0,312.5 416.0,309.4 434.0,306.2 447.0,304.2 460.0,303.4 473.0,302.9 486.0,302.9 499.0,302.3 510.0,302.0 530.0,300.3 556.0,296.7 565.0,295.0 594.0,289.8 617.0,286.7 638.0,281.5" fill="none" stroke="#ff0000" stroke-width="1" stroke-linejoin="round" shape-rendering="crispEdges" />
<polyline points="2.0,446.3 6.5,445.2 10.5,446.3 15.0,445.2 19.4,444.6 24.3,443.5 28.6,443.5 33.4,443.5 37.4,444.6 42.4,444.6 45.6,443.5 51.5,446.0 55.7,447.4 60.3,446.3 64.5,445.6 69.4,444.6 73.5,443.5 82.6,443.2 87.5,442.4 91.6,442.0 96.5,441.0 106.8,439.2 120.5,440.6 129.3,441.6 136.2,445.5 143.0,449.0 150.9,450.4 159.7,449.0 169.5,448.0 176.4,448.4 181.3,445.9 187.2,441.2 193.0,437.6 202.8,435.3 212.6,433.3 220.5,433.7 228.3,435.3 235.0,436.0 243.7,437.2 253.5,441.6 265.3,444.5 275.0,448.4 285.0,451.0 292.7,452.4 298.6,451.0 308.4,449.0 318.2,448.4 328.0,449.4 337.8,450.4 347.6,449.8 355.5,448.4 360.4,447.0 370.0,449.0 376.8,449.8 388.5,451.4 400.3,449.4 408.0,446.5 414.0,445.9 421.9,449.0 429.7,451.4 439.5,451.4 447.4,455.3 455.2,461.2 463.0,464.7 472.8,468.6 482.6,471.4 492.5,474.0 505.0,474.5 511.8,474.3 523.5,474.0 535.3,471.4 547.0,468.0 560.8,466.7 566.7,462.2 574.5,456.3 582.4,450.4 592.0,444.5 602.0,439.2 609.8,438.6 617.6,436.7 627.5,431.4 638.4,425.0" fill="none" stroke="#000000" stroke-width="1" stroke-linejoin="round" shape-rendering="crispEdges" />
<polyline points="2.0,449.8 6.5,448.8 15.0,447.7 24.3,446.3 33.4,445.2 42.4,444.9 46.6,444.6 51.5,445.2 60.3,445.6 69.4,445.2 78.4,444.6 87.5,443.8 96.5,442.8 106.8,441.2 120.5,440.2 132.2,441.2 140.0,443.5 148.0,445.9 157.7,447.5 169.5,447.8 179.3,447.0 187.2,444.5 197.0,441.6 206.8,439.2 216.6,437.2 224.4,436.0 235.0,436.0 243.7,436.7 253.5,438.6 265.3,440.0 275.0,443.0 285.0,445.5 292.7,448.4 300.6,449.8 308.4,449.4 318.2,449.0 328.0,449.4 337.8,449.8 347.6,449.8 357.5,449.0 370.0,449.0 376.8,449.8 388.5,450.4 400.3,449.8 408.0,449.0 416.0,447.8 423.8,449.0 433.6,449.8 443.4,450.4 451.3,452.4 459.0,455.7 467.0,458.8 474.8,462.2 482.6,465.5 492.5,469.0 500.3,470.6 511.8,472.0 523.5,473.0 535.3,472.0 547.0,471.0 560.8,469.0 566.7,467.0 574.5,463.0 582.4,459.2 592.0,454.3 602.0,449.0 609.8,445.5 617.6,443.0 627.5,438.6 638.4,433.5" fill="none" stroke="#dc143c" stroke-width="1" stroke-linejoin="round" shape-rendering="crispEdges" />
<text x="578.5" y="66.3" font-size="12.3" fill="#dc0000">3569.49</text>
<g stroke="#2f8fae" stroke-width="1" fill="none"><path d="M623 62.5H638.5M635 59l3.5 3.5l-3.5 3.5"/></g>
<text x="66.5" y="384.3" font-size="12.3" fill="#008000">3139.50</text>
<g stroke="#2f8fae" stroke-width="1" fill="none"><path d="M66 379.5H52.5M55.5 376.5l-3 3l3 3"/></g>
<text class="ax" x="677.6" y="258.8" font-size="12.3" textLength="37.6" lengthAdjust="spacingAndGlyphs">3303.2</text>
<text class="ax" x="676.5" y="436">52.0</text>
<text class="ax" x="676.5" y="462">0.0</text>
<text class="ax" x="3.7" y="491" font-size="12.3" textLength="33.8" lengthAdjust="spacingAndGlyphs">17-06</text>
<text class="ax" x="103.0" y="491" font-size="12.3" textLength="33.8" lengthAdjust="spacingAndGlyphs">17-08</text>
<text class="ax" x="205.3" y="491" font-size="12.3" textLength="33.8" lengthAdjust="spacingAndGlyphs">17-09</text>
<text class="ax" x="299.4" y="491" font-size="12.3" textLength="33.8" lengthAdjust="spacingAndGlyphs">17-10</text>
<text class="ax" x="376.2" y="491" font-size="12.3" textLength="33.8" lengthAdjust="spacingAndGlyphs">17-11</text>
<text class="ax" x="475.2" y="491" font-size="12.3" textLength="33.8" lengthAdjust="spacingAndGlyphs">17-12</text>
<text class="ax" x="568.9" y="491" font-size="12.3" textLength="33.8" lengthAdjust="spacingAndGlyphs">18-01</text>
<text class="h1" x="3.7" y="16" textLength="127.5" lengthAdjust="spacingAndGlyphs">000001.SH[<tspan font-size="12.6" dy="-0.4">上证指数</tspan><tspan dy="0.4">]</tspan></text>
<text class="h1" x="147.6" y="16" textLength="75.2" lengthAdjust="spacingAndGlyphs">2018/01/24</text>
<text class="h1" x="234.4" y="15.6" style="font-size:12.6px">收</text>
<text class="h1" x="250.6" y="16" style="fill:#cc0000" textLength="49.2" lengthAdjust="spacingAndGlyphs">3559.47</text>
<text class="h1" x="312.7" y="15.6" style="font-size:12.6px">幅</text>
<text class="h1" x="328.7" y="16" style="fill:#cc0000" textLength="80.5" lengthAdjust="spacingAndGlyphs">0.37%(12.97)</text>
<text class="h1" x="422.2" y="15.6" style="font-size:12.6px">开</text>
<text class="h1" x="437.6" y="16" style="fill:#cc0000" textLength="49.7" lengthAdjust="spacingAndGlyphs">3553.48</text>
<text class="h1" x="500.4" y="15.6" style="font-size:12.6px">高</text>
<text class="h1" x="515.8" y="16" style="fill:#cc0000" textLength="49.7" lengthAdjust="spacingAndGlyphs">3569.49</text>
<text class="h1" x="577.8" y="15.6" style="font-size:12.6px">低</text>
<text class="h1" x="594" y="16" style="fill:#0a7a0a" textLength="49.7" lengthAdjust="spacingAndGlyphs">3527.11</text>
<text class="h1" x="655.4" y="15.6" style="font-size:12.6px">换</text>
<text x="694.2" y="15.9" font-size="17" fill="#e00000" style="letter-spacing:-1.6px">...</text>
<text class="h2" x="2.8" y="35.8" style="fill:#222" textLength="26" lengthAdjust="spacingAndGlyphs">MA5</text>
<text class="h2" x="34.2" y="35.8" style="fill:#ff1493" textLength="43.2" lengthAdjust="spacingAndGlyphs">3513.99</text>
<text x="76.3" y="36.199999999999996" font-size="17.5" fill="#ff1493">↑</text>
<text class="h2" x="90.7" y="35.8" style="fill:#222" textLength="32.8" lengthAdjust="spacingAndGlyphs">MA10</text>
<text class="h2" x="130" y="35.8" style="fill:#4682b4" textLength="43.7" lengthAdjust="spacingAndGlyphs">3471.60</text>
<text x="172.6" y="36.199999999999996" font-size="17.5" fill="#4682b4">↑</text>
<text class="h2" x="185.5" y="35.8" style="fill:#222" textLength="33.5" lengthAdjust="spacingAndGlyphs">MA20</text>
<text class="h2" x="224.9" y="35.8" style="fill:#00ffff" textLength="43.800000000000004" lengthAdjust="spacingAndGlyphs">3416.77</text>
<text x="267.6" y="36.199999999999996" font-size="17.5" fill="#00ffff">↑</text>
<text class="h2" x="280.8" y="35.8" style="fill:#222" textLength="32.8" lengthAdjust="spacingAndGlyphs">MA30</text>
<text class="h2" x="320" y="35.8" style="fill:#ff80ff" textLength="44.0" lengthAdjust="spacingAndGlyphs">3374.43</text>
<text x="362.9" y="36.199999999999996" font-size="17.5" fill="#ff80ff">↑</text>
<text class="h2" x="375.6" y="35.8" style="fill:#222" textLength="33.4" lengthAdjust="spacingAndGlyphs">MA60</text>
<text class="h2" x="415" y="35.8" style="fill:#00ff00" textLength="43.800000000000004" lengthAdjust="spacingAndGlyphs">3369.39</text>
<text x="457.7" y="36.199999999999996" font-size="17.5" fill="#00ff00">↑</text>
<text class="h2" x="470.4" y="35.8" style="fill:#222" textLength="40.6" lengthAdjust="spacingAndGlyphs">MA120</text>
<text class="h2" x="516.8" y="35.8" style="fill:#0000ff" textLength="44.2" lengthAdjust="spacingAndGlyphs">3355.73</text>
<text x="559.9" y="36.199999999999996" font-size="17.5" fill="#0000ff">↑</text>
<text class="h2" x="573" y="35.8" style="fill:#222" textLength="39.6" lengthAdjust="spacingAndGlyphs">MA250</text>
<text class="h2" x="618.4" y="35.8" style="fill:#ff0000" textLength="44.7" lengthAdjust="spacingAndGlyphs">3267.41</text>
<text x="662.0" y="36.199999999999996" font-size="17.5" fill="#ff0000">↑</text>
<clipPath id="cp"><rect x="674" y="21" width="40" height="20"/></clipPath>
<g clip-path="url(#cp)"><text class="h2" x="665.6" y="35.8" style="letter-spacing:0.4px" fill="#222" text-decoration="underline">(3日)</text><line x1="674" y1="37.5" x2="693.6" y2="37.5" stroke="#222" stroke-width="1" shape-rendering="crispEdges"/></g>
<path d="M695.3 25.2h14l-7 11.5z" fill="#8c8c8c"/>
<rect x="1" y="403.3" width="18" height="17.4" rx="1.8" ry="1.8" fill="#f2f2f2"/>
<text x="6.6" y="418" font-size="13.2" fill="#1f2a3a">?</text>
<text class="h2" x="20.5" y="416.3" style="fill:#222" textLength="85.5" lengthAdjust="spacingAndGlyphs">MACD(12,26,9)</text>
<text class="h2" x="111.5" y="416.3" style="fill:#222" textLength="70.5" lengthAdjust="spacingAndGlyphs">DIF: 51.6015</text>
<text class="h2" x="187.5" y="416.3" style="fill:#dc143c" textLength="75" lengthAdjust="spacingAndGlyphs">DEA: 36.5689</text>
<text class="h2" x="268.5" y="416.3" style="fill:#2fc540" textLength="88" lengthAdjust="spacingAndGlyphs">MACD: 30.0652</text>
<rect x="290" y="113" width="127" height="360" fill="none" stroke="#f85050" stroke-width="4" stroke-linejoin="round"/>
<rect x="436" y="126" width="95.5" height="357" fill="none" stroke="#8dd100" stroke-width="4" stroke-linejoin="round"/>
</svg></body></html>
